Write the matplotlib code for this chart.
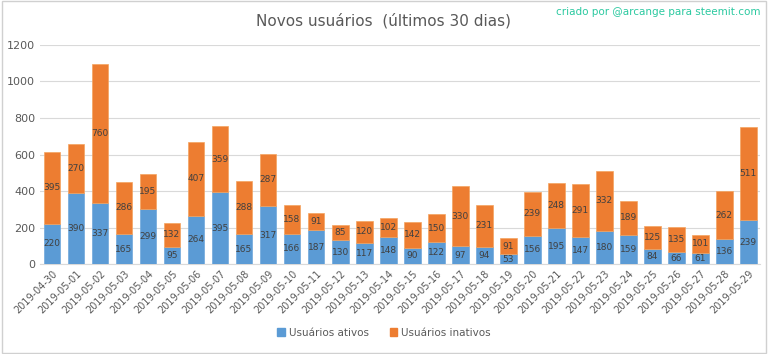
import matplotlib
matplotlib.use('Agg')
import matplotlib.pyplot as plt
import matplotlib.patches as mpatches
import numpy as np

dates = ['2019-04-30', '2019-05-01', '2019-05-02', '2019-05-03', '2019-05-04', '2019-05-05',
         '2019-05-06', '2019-05-07', '2019-05-08', '2019-05-09', '2019-05-10', '2019-05-11',
         '2019-05-12', '2019-05-13', '2019-05-14', '2019-05-15', '2019-05-16', '2019-05-17',
         '2019-05-18', '2019-05-19', '2019-05-20', '2019-05-21', '2019-05-22', '2019-05-23',
         '2019-05-24', '2019-05-25', '2019-05-26', '2019-05-27', '2019-05-28', '2019-05-29']
ativos = [220, 390, 337, 165, 299, 95, 264, 395, 165, 317, 166, 187, 130, 117, 148,
          90, 122, 97, 94, 53, 156, 195, 147, 180, 159, 84, 66, 61, 136, 239]
inativos = [395, 270, 760, 286, 195, 132, 407, 359, 288, 287, 158, 91, 85, 120, 102,
            142, 150, 330, 231, 91, 239, 248, 291, 332, 189, 125, 135, 101, 262, 511]

blue = '#5B9BD5'
orange = '#ED7D31'
grey = '#595959'

fig = plt.figure(figsize=(7.68, 3.54), dpi=100)
ax = fig.add_axes([0.052, 0.254, 0.938, 0.619])

x = np.arange(len(dates))
ax.bar(x, ativos, width=0.7, color=blue, edgecolor='#6FA8DC', linewidth=0.5, zorder=3)
ax.bar(x, inativos, width=0.7, bottom=ativos, color=orange, edgecolor='#F4A460', linewidth=0.5, zorder=3)

# value labels in the middle of each segment
for i in range(len(dates)):
    ax.text(x[i], ativos[i] / 2, str(ativos[i]), ha='center', va='center', fontsize=6.5, color='#404040', zorder=4)
    ax.text(x[i], ativos[i] + inativos[i] / 2, str(inativos[i]), ha='center', va='center', fontsize=6.5, color='#404040', zorder=4)

ax.set_xlim(-0.5, len(dates) - 0.5)
ax.set_ylim(0, 1200)
ax.set_yticks(range(0, 1201, 200))
ax.yaxis.grid(True, color='#D9D9D9', linewidth=0.8, zorder=0)
ax.set_xticks(x)
ax.set_xticklabels(dates, rotation=45, ha='right', rotation_mode='anchor', fontsize=7, color=grey)
ax.tick_params(axis='y', labelsize=8, colors=grey, length=0)
ax.tick_params(axis='x', length=0, pad=3)
for s in ['top', 'right', 'left']:
    ax.spines[s].set_visible(False)
ax.spines['bottom'].set_color('#D9D9D9')

fig.text(0.5, 0.94, 'Novos usuários  (últimos 30 dias)', ha='center', va='center', fontsize=11, color=grey)
fig.text(0.99, 0.965, 'criado por @arcange para steemit.com', ha='right', va='center', fontsize=7.5, color='#2BC9A0')

patches = [mpatches.Patch(color=blue, label='Usuários ativos'),
           mpatches.Patch(color=orange, label='Usuários inativos')]
fig.legend(handles=patches, loc='center', bbox_to_anchor=(0.5, 0.06), ncol=2, frameon=False,
           fontsize=7.5, labelcolor=grey, handlelength=0.7, handleheight=0.7, columnspacing=2, handletextpad=0.4)

fig.patches.append(mpatches.Rectangle((0.002, 0.003), 0.996, 0.994, transform=fig.transFigure,
                                      fill=False, edgecolor='#D0D0D0', linewidth=1))

fig.savefig('out.png', dpi=100)
